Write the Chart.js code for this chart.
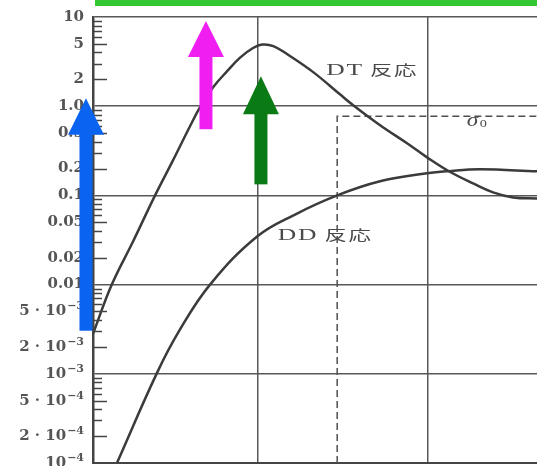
<!DOCTYPE html>
<html>
<head>
<meta charset="utf-8">
<script src="https://cdn.jsdelivr.net/npm/chart.js@4.4.1/dist/chart.umd.min.js"></script>
<style>
  html, body { margin: 0; padding: 0; background: #ffffff; }
  #wrap { width: 537px; height: 466px; position: relative; }
</style>
</head>
<body>
<div id="wrap"><canvas id="c"></canvas></div>
<script>
// ---- data (x: energy, log axis; y: cross-section, log axis) ----
const dtEnergy = [1.07, 1.38, 1.84, 2.48, 3.16, 3.98, 4.56, 5.44, 6.58, 7.84, 9.35, 10.6, 12.3, 14.8, 21.1, 30.3, 35.7, 52.2, 75.2, 98.6, 131, 184, 241, 316, 437];
const dtSigma  = [0.0028, 0.010, 0.0304, 0.100, 0.247, 0.596, 0.975, 1.63, 2.47, 3.51, 4.49, 4.91, 4.72, 3.84, 2.41, 1.36, 1.05, 0.612, 0.384, 0.267, 0.189, 0.136, 0.108, 0.095, 0.0925];

const ddEnergy = [1.48, 2.55, 3.47, 5.22, 9.87, 16.5, 29.2, 52.2, 98.6, 131, 202, 437];
const ddSigma  = [0.0001, 0.00103, 0.00312, 0.010, 0.0346, 0.061, 0.10, 0.144, 0.177, 0.187, 0.196, 0.186];

// sigma_0 dashed box (energy threshold and level)
const sigma0Energy = [29.2, 29.2, 437];
const sigma0Value  = [0.0001, 0.773, 0.773];

// axis ranges and ticks
const xMin = 1.07, xMax = 437;
const xGridValues = [10, 100];
const yMin = 0.0001, yMax = 10;
const yLabelValues = [10, 5, 2, 1, 0.5, 0.2, 0.1, 0.05, 0.02, 0.01, 0.005, 0.002, 0.001, 0.0005, 0.0002, 0.0001];
const yLabelTexts  = ['10', '5', '2', '1.0', '0.5', '0.2', '0.1', '0.05', '0.02', '0.01', '5 · 10⁻³', '2 · 10⁻³', '10⁻³', '5 · 10⁻⁴', '2 · 10⁻⁴', '10⁻⁴'];
const yMinorMultipliers = [2, 3, 4, 5, 6, 7, 8, 9];
const yDecades = [-4, -3, -2, -1, 0];

// text annotations (data coordinates)
const curveLabels = [
  { text: 'DT', cjk: '反応', x: 46.9, y: 2.54 },
  { text: 'DD', cjk: '反応', x: 24.8, y: 0.0365 }
];
const sigma0Label = { x: 194, y: 0.678 };

// highlight arrows (data coordinates: x, tip, head base, tail)
const arrows = [
  { color: '#0a64f0', x: 0.973, tip: 1.23, base: 0.48, tail: 0.00304 },
  { color: '#f01ef0', x: 4.94, tip: 9.0, base: 3.56, tail: 0.552 },
  { color: '#0a7a14', x: 10.4, tip: 2.17, base: 0.813, tail: 0.133 }
];

const toPts = (xs, ys) => xs.map((x, i) => ({ x: x, y: ys[i] }));
const isDecade = v => Math.abs(Math.log10(v) - Math.round(Math.log10(v))) < 1e-6;
const SUP = { '⁻': '−', '³': '3', '⁴': '4' };

const INK = '#3b3b3b';
const GRID = '#585858';
const TXT = '#4a4a4a';

function drawTickLabel(ctx, text, right, y) {
  // split into normal part and superscript part
  let base = '', sup = '';
  for (const ch of text) { if (SUP[ch]) sup += SUP[ch]; else base += ch; }
  const baseFont = 'bold 15px "DejaVu Serif", serif';
  const supFont = 'bold 11px "DejaVu Serif", serif';
  ctx.font = supFont;
  const ws = sup ? ctx.measureText(sup).width + 1 : 0;
  ctx.font = baseFont;
  ctx.textAlign = 'right';
  ctx.fillText(base, right - ws, y);
  if (sup) {
    ctx.font = supFont;
    ctx.textAlign = 'left';
    ctx.fillText(sup, right - ws + 1, y - 5);
  }
}

const overlay = {
  id: 'overlay',
  afterDatasetsDraw(chart) {
    const ctx = chart.ctx;
    const xs = chart.scales.x, ys = chart.scales.y;
    const ca = chart.chartArea;
    ctx.save();
    // minor tick marks inside the axis
    ctx.strokeStyle = '#444';
    ctx.lineWidth = 1.5;
    yDecades.forEach(k => {
      yMinorMultipliers.forEach(m => {
        const v = m * Math.pow(10, k);
        const py = Math.round(ys.getPixelForValue(v)) + 0.5;
        const len = (m === 2 || m === 5) ? 14 : 9;
        ctx.beginPath();
        ctx.moveTo(ca.left, py);
        ctx.lineTo(ca.left + len, py);
        ctx.stroke();
      });
    });
    // y tick labels
    ctx.fillStyle = '#555';
    ctx.textBaseline = 'middle';
    yLabelValues.forEach((v, i) => {
      drawTickLabel(ctx, yLabelTexts[i], ca.left - 9, ys.getPixelForValue(v));
    });
    // curve labels (horizontally stretched like the scanned original)
    ctx.fillStyle = TXT;
    ctx.textAlign = 'left';
    const sx = 1.6;
    curveLabels.forEach(l => {
      const px = xs.getPixelForValue(l.x), py = ys.getPixelForValue(l.y);
      ctx.font = '16px "Liberation Serif", "DejaVu Serif", serif';
      ctx.letterSpacing = '1px';
      const w1 = ctx.measureText(l.text).width;
      ctx.font = '14px "Noto Sans CJK JP"';
      ctx.letterSpacing = '1px';
      const w2 = ctx.measureText(l.cjk).width;
      const gap = 4;
      const total = (w1 + gap + w2) * sx;
      ctx.save();
      ctx.translate(px - total / 2, py);
      ctx.scale(sx, 1);
      ctx.font = '16px "Liberation Serif", "DejaVu Serif", serif';
      ctx.letterSpacing = '1px';
      ctx.fillText(l.text, 0, 1);
      ctx.font = '14px "Noto Sans CJK JP"';
      ctx.letterSpacing = '1px';
      ctx.fillText(l.cjk, w1 + gap, 0);
      ctx.restore();
    });
    ctx.letterSpacing = '0px';
    // sigma_0
    {
      const px = xs.getPixelForValue(sigma0Label.x), py = ys.getPixelForValue(sigma0Label.y);
      ctx.save();
      ctx.translate(px, py);
      ctx.scale(1.3, 1);
      ctx.font = 'italic 18px "Liberation Serif", "DejaVu Serif", serif';
      ctx.textAlign = 'right';
      ctx.fillText('σ', 1, 0);
      ctx.font = '11px "Liberation Serif", "DejaVu Serif", serif';
      ctx.textAlign = 'left';
      ctx.fillText('0', 2, 3);
      ctx.restore();
    }
    ctx.restore();
  },
  afterDraw(chart) {
    const ctx = chart.ctx;
    const xs = chart.scales.x, ys = chart.scales.y;
    const ca = chart.chartArea;
    ctx.save();
    // green band on top
    ctx.fillStyle = '#33c633';
    ctx.fillRect(ca.left + 2, 0, chart.width - ca.left - 2, 6);
    // arrows
    arrows.forEach(a => {
      const px = xs.getPixelForValue(a.x);
      const pTip = ys.getPixelForValue(a.tip);
      const pBase = ys.getPixelForValue(a.base);
      const pTail = ys.getPixelForValue(a.tail);
      const sw = 13, hw = 36;
      ctx.fillStyle = a.color;
      ctx.fillRect(px - sw / 2, pBase - 1, sw, pTail - pBase + 1);
      ctx.beginPath();
      ctx.moveTo(px, pTip);
      ctx.lineTo(px + hw / 2, pBase);
      ctx.lineTo(px - hw / 2, pBase);
      ctx.closePath();
      ctx.fill();
    });
    ctx.restore();
  }
};

new Chart(document.getElementById('c'), {
  type: 'line',
  data: {
    datasets: [
      {
        label: 'DT 反応',
        data: toPts(dtEnergy, dtSigma),
        borderColor: INK, borderWidth: 2.5, pointRadius: 0,
        tension: 0.4, fill: false
      },
      {
        label: 'DD 反応',
        data: toPts(ddEnergy, ddSigma),
        borderColor: INK, borderWidth: 2.5, pointRadius: 0,
        tension: 0.4, fill: false
      },
      {
        label: 'σ0',
        data: toPts(sigma0Energy, sigma0Value),
        borderColor: '#505050', borderWidth: 1.5, borderDash: [7, 4], pointRadius: 0,
        tension: 0, fill: false
      }
    ]
  },
  options: {
    responsive: true,
    maintainAspectRatio: false,
    animation: false,
    devicePixelRatio: 1,
    layout: { padding: { top: 17, right: 0, bottom: 3, left: 0 } },
    plugins: { legend: { display: false }, tooltip: { enabled: false } },
    scales: {
      x: {
        type: 'logarithmic',
        min: xMin, max: xMax,
        afterBuildTicks: s => { s.ticks = xGridValues.map(v => ({ value: v })); },
        afterFit: s => { s.height = 0; },
        ticks: { display: false },
        grid: { color: GRID, lineWidth: 1.5, drawTicks: false },
        border: { display: true, color: '#444', width: 2 }
      },
      y: {
        type: 'logarithmic',
        min: yMin, max: yMax,
        afterBuildTicks: s => { s.ticks = yLabelValues.slice().reverse().map(v => ({ value: v })); },
        afterFit: s => { s.width = 93; },
        ticks: { display: false },
        grid: {
          drawTicks: false,
          lineWidth: 1.5,
          color: c => (c.tick && isDecade(c.tick.value)) ? GRID : 'rgba(0,0,0,0)'
        },
        border: { display: true, color: '#444', width: 2.5 }
      }
    }
  },
  plugins: [overlay]
});
</script>
</body>
</html>
